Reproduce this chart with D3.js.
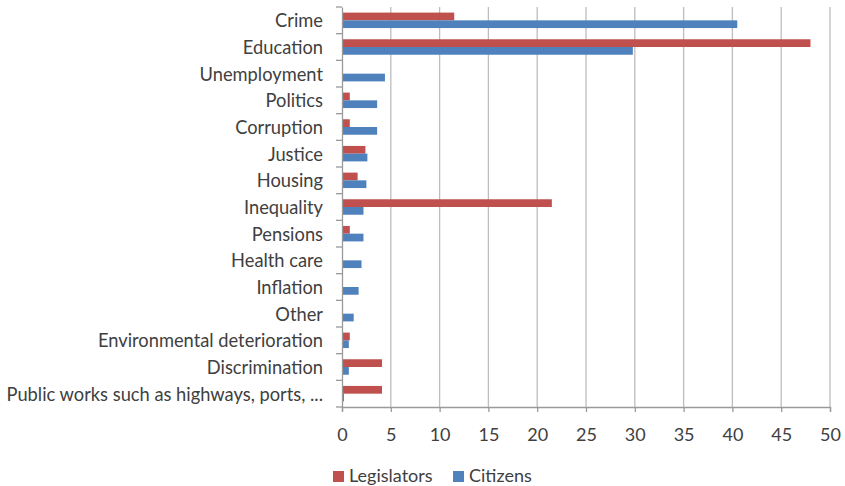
<!DOCTYPE html>
<html>
<head>
<meta charset="utf-8">
<script src="https://cdn.jsdelivr.net/npm/d3@7"></script>
<style>
  html, body { margin: 0; padding: 0; background: #fff; }
  svg { display: block; }
  text { font-family: Lato, "Open Sans", sans-serif; fill: #404040; }
</style>
</head>
<body>
<svg id="chart" width="845" height="486"></svg>
<script>
const categories = [
  "Crime", "Education", "Unemployment", "Politics", "Corruption", "Justice",
  "Housing", "Inequality", "Pensions", "Health care", "Inflation", "Other",
  "Environmental deterioration", "Discrimination",
  "Public works such as highways, ports, ..."
];
const seriesNames = ["Legislators", "Citizens"];
const legislators = [11.5, 48.0, 0, 0.8, 0.8, 2.4, 1.6, 21.5, 0.8, 0, 0, 0, 0.8, 4.1, 4.1];
const citizens    = [40.5, 29.8, 4.4, 3.6, 3.6, 2.6, 2.5, 2.2, 2.2, 2.0, 1.7, 1.2, 0.7, 0.7, 0.2];
const xTicks = [0, 5, 10, 15, 20, 25, 30, 35, 40, 45, 50];
const colors = ["#C0504D", "#4F81BD"];

const svg = d3.select("#chart");
const margin = { left: 342, right: 15, top: 7, bottom: 79 };
const W = 845, H = 486;

const x = d3.scaleLinear().domain([0, 50]).range([margin.left, 830]);
const y = d3.scaleBand().domain(categories).range([margin.top, H - margin.bottom]).paddingInner(0.42).paddingOuter(0.21);
const ySub = d3.scaleBand().domain(seriesNames).range([0, y.bandwidth()]);

// vertical gridlines
svg.append("g")
  .selectAll("line")
  .data(xTicks.filter(d => d > 0))
  .join("line")
  .attr("x1", d => x(d)).attr("x2", d => x(d))
  .attr("y1", margin.top).attr("y2", H - margin.bottom)
  .attr("stroke", "#BDBDBD").attr("stroke-width", 1.3);

// bars
const rows = categories.map((c, i) => ({ cat: c, values: [legislators[i], citizens[i]] }));
const groups = svg.append("g").selectAll("g")
  .data(rows)
  .join("g")
  .attr("transform", d => `translate(0,${y(d.cat)})`);
groups.selectAll("rect")
  .data(d => d.values.map((v, k) => ({ name: seriesNames[k], v, k })))
  .join("rect")
  .attr("x", x(0))
  .attr("y", d => ySub(d.name))
  .attr("width", d => x(d.v) - x(0))
  .attr("height", ySub.bandwidth())
  .attr("fill", d => colors[d.k]);

// category axis
const yAxis = svg.append("g")
  .attr("transform", `translate(${x(0)},0)`)
  .call(d3.axisLeft(y).tickSize(0).tickPadding(19));
yAxis.select(".domain").attr("stroke", "#9A9A9A").attr("stroke-width", 1.3);
yAxis.selectAll("text").style("font-size", "18.3px").attr("fill", "#404040").attr("dy", "0.38em");
// boundary tick marks between categories
const edges = categories.map(c => y(c) - y.step() * y.paddingInner() / 2).concat([H - margin.bottom]);
yAxis.selectAll(".edge")
  .data(edges)
  .join("line")
  .attr("class", "edge")
  .attr("x1", -6).attr("x2", 0)
  .attr("y1", d => d).attr("y2", d => d)
  .attr("stroke", "#9A9A9A").attr("stroke-width", 1.3);

// value axis
const xAxis = svg.append("g")
  .attr("transform", `translate(0,${H - margin.bottom})`)
  .call(d3.axisBottom(x).tickValues(xTicks).tickSize(5).tickPadding(16));
xAxis.select(".domain").attr("stroke", "#9A9A9A").attr("stroke-width", 1.3);
xAxis.selectAll(".tick line").attr("stroke", "#9A9A9A").attr("stroke-width", 1.3);
xAxis.selectAll("text").style("font-size", "18px").attr("fill", "#404040");

// legend
const legend = svg.append("g").attr("transform", "translate(333,476)");
const items = [{ name: seriesNames[0], x: 0 }, { name: seriesNames[1], x: 120 }];
items.forEach((it, k) => {
  legend.append("rect").attr("x", it.x).attr("y", -5).attr("width", 11).attr("height", 11).attr("fill", colors[k]);
  legend.append("text").attr("x", it.x + 16).attr("y", 0).attr("dy", "0.35em")
    .style("font-size", "18px").text(it.name);
});
</script>
</body>
</html>
